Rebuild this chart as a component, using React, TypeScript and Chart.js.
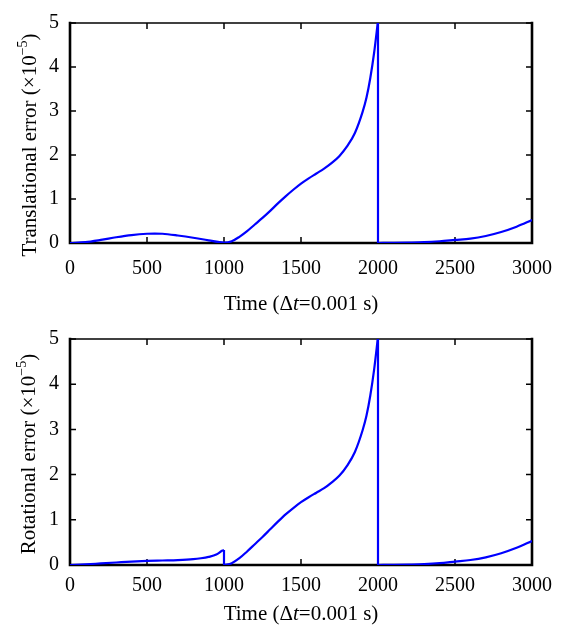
import React, { useEffect, useRef } from "react";
import { Chart, registerables } from "chart.js";

Chart.register(...registerables);

// ---------- data ----------
const xTickValues = [0, 500, 1000, 1500, 2000, 2500, 3000];
const yTickValues = [0, 1, 2, 3, 4, 5];

const transX = [0, 100, 200, 300, 400, 500, 550, 600, 700, 800, 900, 1000, 1050, 1100, 1150, 1200, 1250, 1300, 1350, 1400, 1450, 1500, 1550, 1600, 1650, 1700, 1750, 1800, 1850, 1900, 1925, 1950, 1975, 2000, 2000, 2100, 2200, 2300, 2400, 2500, 2600, 2700, 2800, 2900, 3000];
const transY = [0, 0.02, 0.07, 0.13, 0.18, 0.21, 0.215, 0.21, 0.17, 0.12, 0.06, 0.01, 0.04, 0.14, 0.27, 0.42, 0.57, 0.73, 0.9, 1.06, 1.21, 1.35, 1.47, 1.58, 1.69, 1.82, 1.98, 2.2, 2.5, 2.98, 3.3, 3.75, 4.33, 5.05, 0, 0.003, 0.01, 0.02, 0.04, 0.07, 0.1, 0.16, 0.25, 0.37, 0.52];

const rotX = [0, 100, 200, 300, 400, 500, 600, 700, 800, 850, 900, 950, 990, 1000, 1000, 1050, 1100, 1150, 1200, 1250, 1300, 1350, 1400, 1450, 1500, 1550, 1600, 1650, 1700, 1750, 1800, 1850, 1900, 1925, 1950, 1975, 2000, 2000, 2100, 2200, 2300, 2400, 2500, 2600, 2700, 2800, 2900, 3000];
const rotY = [0, 0.015, 0.035, 0.055, 0.075, 0.09, 0.1, 0.11, 0.13, 0.15, 0.18, 0.23, 0.32, 0.33, 0, 0.04, 0.15, 0.3, 0.46, 0.62, 0.79, 0.96, 1.12, 1.26, 1.39, 1.5, 1.6, 1.7, 1.83, 1.98, 2.2, 2.5, 2.98, 3.3, 3.75, 4.33, 5.05, 0, 0.003, 0.01, 0.02, 0.04, 0.075, 0.11, 0.17, 0.26, 0.38, 0.53];

const xTitleSegs = [
  { text: "Time (Δ" },
  { text: "t", italic: true },
  { text: "=0.001 s)" },
];
const transTitleSegs = [
  { text: "Translational error (×10" },
  { text: "−5", sup: true },
  { text: ")" },
];
const rotTitleSegs = [
  { text: "Rotational error (×10" },
  { text: "−5", sup: true },
  { text: ")" },
];

const SERIF = "'Liberation Serif', 'Times New Roman', Times, serif";
const LINE_COLOR = "#0000ff";

type Seg = { text: string; italic?: boolean; sup?: boolean };

function drawRich(ctx: CanvasRenderingContext2D, segs: Seg[], cx: number, baseline: number, size: number) {
  const items = segs.map((s) => {
    const fs = s.sup ? Math.round(size * 0.66) : size;
    const font = `${s.italic ? "italic " : ""}${fs}px ${SERIF}`;
    ctx.font = font;
    return { ...s, font, w: ctx.measureText(s.text).width };
  });
  const total = items.reduce((a, b) => a + b.w, 0);
  let x = cx - total / 2;
  ctx.textAlign = "left";
  ctx.textBaseline = "alphabetic";
  ctx.fillStyle = "#000";
  for (const it of items) {
    ctx.font = it.font;
    ctx.fillText(it.text, x, baseline + (it.sup ? -size * 0.42 : 0));
    x += it.w;
  }
}

// split a series into smooth runs at repeated x (jumps) plus vertical connectors
function buildDatasets(xs: number[], ys: number[]) {
  const runs: { x: number; y: number }[][] = [[]];
  const jumps: { x: number; y: number }[][] = [];
  for (let i = 0; i < xs.length; i++) {
    const p = { x: xs[i], y: ys[i] };
    const cur = runs[runs.length - 1];
    if (cur.length && cur[cur.length - 1].x === p.x) {
      jumps.push([cur[cur.length - 1], p]);
      runs.push([p]);
    } else {
      cur.push(p);
    }
  }
  const base = {
    borderColor: LINE_COLOR,
    borderWidth: 2.2,
    pointRadius: 0,
    fill: false,
  };
  return [
    ...runs.map((r) => ({ ...base, data: r, cubicInterpolationMode: "monotone" as const })),
    ...jumps.map((j) => ({ ...base, data: j, tension: 0 })),
  ];
}

type Cfg = {
  xs: number[];
  ys: number[];
  yTitle: Seg[];
  canvasH: number;
  padTop: number;
  xScaleH: number;
  xTickPad: number;
  xTitleBaseline: number;
  yTitleBaselineX: number;
  yTitleCenterY: number;
};

function framePlugin(cfg: Cfg) {
  return {
    id: "frame",
    beforeDatasetsDraw(chart: any) {
      const ctx: CanvasRenderingContext2D = chart.ctx;
      const { left, right, top, bottom } = chart.chartArea;
      const xs = chart.scales.x;
      const ys = chart.scales.y;
      ctx.save();
      ctx.strokeStyle = "#000";
      ctx.lineCap = "square";
      ctx.lineWidth = 1.5;
      ctx.beginPath();
      ctx.moveTo(left, top);
      ctx.lineTo(right, top);
      ctx.stroke();
      ctx.lineWidth = 2.6;
      ctx.beginPath();
      ctx.moveTo(left, top);
      ctx.lineTo(left, bottom);
      ctx.lineTo(right, bottom);
      ctx.moveTo(right, bottom);
      ctx.lineTo(right, top);
      ctx.stroke();
      ctx.lineWidth = 1.5;
      ctx.lineCap = "butt";
      const tl = 6;
      ctx.beginPath();
      for (const v of xTickValues) {
        const px = xs.getPixelForValue(v);
        ctx.moveTo(px, bottom);
        ctx.lineTo(px, bottom - tl);
        ctx.moveTo(px, top);
        ctx.lineTo(px, top + tl);
      }
      for (const v of yTickValues) {
        const py = ys.getPixelForValue(v);
        ctx.moveTo(left, py);
        ctx.lineTo(left + tl, py);
        ctx.moveTo(right, py);
        ctx.lineTo(right - tl, py);
      }
      ctx.stroke();
      ctx.restore();
    },
    afterDraw(chart: any) {
      const ctx: CanvasRenderingContext2D = chart.ctx;
      const { left, right } = chart.chartArea;
      ctx.save();
      drawRich(ctx, xTitleSegs, (left + right) / 2, cfg.xTitleBaseline, 21);
      ctx.translate(cfg.yTitleBaselineX, cfg.yTitleCenterY);
      ctx.rotate(-Math.PI / 2);
      drawRich(ctx, cfg.yTitle, 0, 0, 21);
      ctx.restore();
    },
  };
}

function ErrorChart(props: { cfg: Cfg; top: number }) {
  const ref = useRef<HTMLCanvasElement | null>(null);
  const { cfg } = props;
  useEffect(() => {
    if (!ref.current) return;
    const chart = new Chart(ref.current, {
      type: "line",
      data: { datasets: buildDatasets(cfg.xs, cfg.ys) },
      options: {
        animation: false,
        responsive: false,
        devicePixelRatio: 1,
        layout: { padding: { top: cfg.padTop, right: 36, left: 0, bottom: 0 } },
        plugins: { legend: { display: false }, tooltip: { enabled: false } },
        scales: {
          x: {
            type: "linear",
            min: 0,
            max: 3000,
            afterBuildTicks: (s: any) => {
              s.ticks = xTickValues.map((v) => ({ value: v }));
            },
            afterFit: (s: any) => {
              s.height = cfg.xScaleH;
            },
            grid: { display: false, drawTicks: false, tickLength: 0 },
            border: { display: false },
            ticks: {
              color: "#000",
              padding: cfg.xTickPad,
              maxRotation: 0,
              font: { family: SERIF, size: 20 },
              callback: (v: any) => String(v),
            },
          },
          y: {
            type: "linear",
            min: 0,
            max: 5,
            afterBuildTicks: (s: any) => {
              s.ticks = yTickValues.map((v) => ({ value: v }));
            },
            afterFit: (s: any) => {
              s.width = 70;
            },
            grid: { display: false, drawTicks: false, tickLength: 0 },
            border: { display: false },
            ticks: {
              color: "#000",
              padding: 11,
              font: { family: SERIF, size: 20 },
              callback: (v: any) => String(v),
            },
          },
        },
      },
      plugins: [framePlugin(cfg)],
    } as any);
    return () => chart.destroy();
  }, []);
  return (
    <canvas
      ref={ref}
      width={568}
      height={cfg.canvasH}
      style={{ position: "absolute", left: 0, top: props.top, width: 568, height: cfg.canvasH }}
    />
  );
}

const topCfg: Cfg = {
  xs: transX,
  ys: transY,
  yTitle: transTitleSegs,
  canvasH: 316,
  padTop: 14,
  xScaleH: 73,
  xTickPad: 14,
  xTitleBaseline: 310,
  yTitleBaselineX: 36,
  yTitleCenterY: 145,
};

const bottomCfg: Cfg = {
  xs: rotX,
  ys: rotY,
  yTitle: rotTitleSegs,
  canvasH: 315,
  padTop: 19,
  xScaleH: 66,
  xTickPad: 9,
  xTitleBaseline: 620 - 316,
  yTitleBaselineX: 35,
  yTitleCenterY: 454 - 316,
};

export default function App() {
  return (
    <div style={{ position: "fixed", left: 0, top: 0, width: 568, height: 631, background: "#fff" }}>
      <ErrorChart cfg={topCfg} top={0} />
      <ErrorChart cfg={bottomCfg} top={316} />
    </div>
  );
}
